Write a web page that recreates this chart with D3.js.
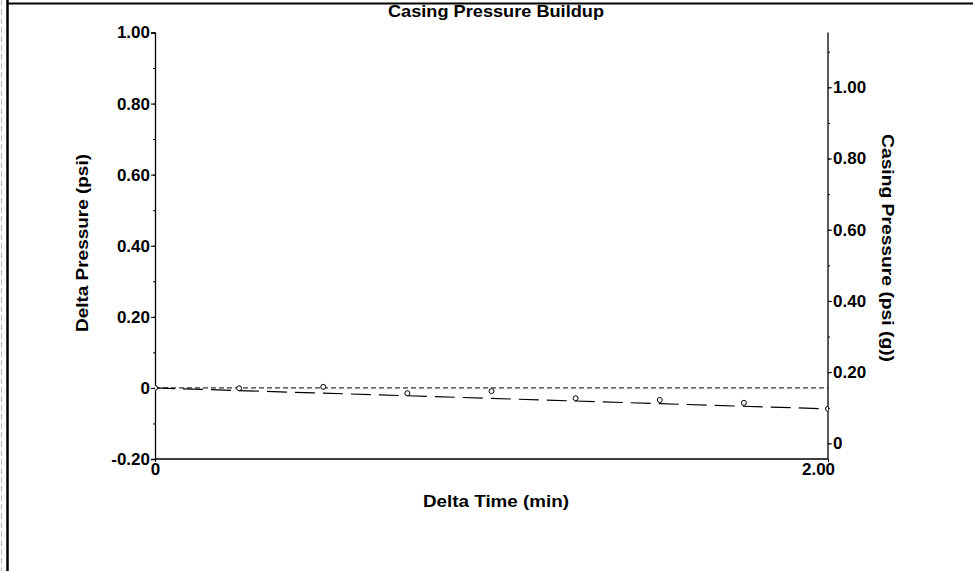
<!DOCTYPE html>
<html>
<head>
<meta charset="utf-8">
<script src="https://cdn.jsdelivr.net/npm/d3@7"></script>
<style>
  html, body { margin: 0; padding: 0; background: #fff; }
  svg { display: block; }
  text { font-family: "Liberation Sans", Arial, sans-serif; font-weight: bold; fill: #000; }
</style>
</head>
<body>
<svg id="chart" width="973" height="571"></svg>
<script>
// ---- data ----
const title = "Casing Pressure Buildup";
const xTitle = "Delta Time (min)";
const yLeftTitle = "Delta Pressure (psi)";
const yRightTitle = "Casing Pressure (psi (g))";

const xDomain = [0, 2.0];
const xTickValues = [0, 2.0];
const xTickLabels = ["0", "2.00"];

const yLeftDomain = [-0.2, 1.0];
const yLeftTickValues = [-0.2, 0, 0.2, 0.4, 0.6, 0.8, 1.0];
const yLeftTickLabels = ["-0.20", "0", "0.20", "0.40", "0.60", "0.80", "1.00"];

const yRightDomain = [-0.044, 1.154];
const yRightTickValues = [0, 0.2, 0.4, 0.6, 0.8, 1.0];
const yRightTickLabels = ["0", "0.20", "0.40", "0.60", "0.80", "1.00"];

// measured delta pressure points
const pointTimes  = [0, 0.25, 0.50, 0.75, 1.00, 1.25, 1.50, 1.75, 2.00];
const pointValues = [0, -0.001, 0.003, -0.015, -0.009, -0.029, -0.034, -0.042, -0.059];

// fitted (long dash) line
const trendTimes  = [0, 2.0];
const trendValues = [0, -0.059];

// reference (short dash) line at zero delta
const refTimes  = [0, 2.0];
const refValues = [0, 0];

// ---- layout ----
const svg = d3.select("#chart");
const mLeft = 155, mRight = 828, mTop = 32.5, mBottom = 459;
const FS = "17px";

const x = d3.scaleLinear().domain(xDomain).range([mLeft, mRight]);
const yL = d3.scaleLinear().domain(yLeftDomain).range([mBottom, mTop]);
const yR = d3.scaleLinear().domain(yRightDomain).range([mBottom, mTop]);

// page frame
svg.append("line").attr("x1", 7).attr("x2", 973).attr("y1", 3.5).attr("y2", 3.5)
  .attr("stroke", "#000").attr("stroke-width", 2);
svg.append("line").attr("x1", 7.5).attr("x2", 7.5).attr("y1", 0).attr("y2", 571)
  .attr("stroke", "#000").attr("stroke-width", 2.5);
svg.append("line").attr("x1", 1.5).attr("x2", 1.5).attr("y1", 0).attr("y2", 571)
  .attr("stroke", "#bbb").attr("stroke-width", 1).attr("stroke-dasharray", "6,3");

// title
svg.append("text").attr("x", 496).attr("y", 17).attr("text-anchor", "middle")
  .attr("textLength", 216).attr("lengthAdjust", "spacingAndGlyphs")
  .style("font-size", FS).text(title);

function styleText(g) {
  g.selectAll("text").style("font-size", FS)
    .style("font-family", "Liberation Sans, Arial, sans-serif").style("font-weight", "bold").attr("fill", "#000");
  g.selectAll(".tick line").attr("stroke", "#000");
}

// left axis
const axL = d3.axisLeft(yL).tickValues(yLeftTickValues).tickSize(4).tickPadding(1)
  .tickFormat((d, i) => yLeftTickLabels[i]);
const gL = svg.append("g").attr("transform", `translate(${mLeft},0)`).call(axL);
gL.select(".domain").attr("stroke", "#000").attr("stroke-width", 1.3);
styleText(gL);
const axLm = d3.axisLeft(yL).ticks(12).tickSize(2).tickFormat("");
const gLm = svg.append("g").attr("transform", `translate(${mLeft},0)`).call(axLm);
gLm.select(".domain").remove();
gLm.selectAll(".tick line").attr("stroke", "#000");

// right axis
const axR = d3.axisRight(yR).tickValues(yRightTickValues).tickSize(4).tickPadding(1)
  .tickFormat((d, i) => yRightTickLabels[i]);
const gR = svg.append("g").attr("transform", `translate(${mRight},0)`).call(axR);
gR.select(".domain").attr("stroke", "#000").attr("stroke-width", 1.3).attr("d", `M0,${mTop}V${mBottom}`);
styleText(gR);
const axRm = d3.axisRight(yR).tickValues(d3.range(0, 1.16, 0.1)).tickSize(2).tickFormat("");
const gRm = svg.append("g").attr("transform", `translate(${mRight},0)`).call(axRm);
gRm.select(".domain").remove();
gRm.selectAll(".tick line").attr("stroke", "#000");

// bottom axis
const axB = d3.axisBottom(x).tickValues(xTickValues).tickSize(3).tickPadding(1)
  .tickFormat((d, i) => xTickLabels[i]);
const gB = svg.append("g").attr("transform", `translate(0,${mBottom})`).call(axB);
gB.select(".domain").attr("stroke", "#000").attr("stroke-width", 1.3).attr("d", `M${mLeft},0H${mRight}`);
styleText(gB);
gB.selectAll(".tick text").filter((d, i) => i === 1).attr("dx", -10);

// axis titles
svg.append("text").attr("x", 496).attr("y", 507).attr("text-anchor", "middle")
  .attr("textLength", 146).attr("lengthAdjust", "spacingAndGlyphs")
  .style("font-size", FS).text(xTitle);
svg.append("text").attr("transform", "translate(88,243) rotate(-90)").attr("text-anchor", "middle")
  .attr("textLength", 178).attr("lengthAdjust", "spacingAndGlyphs")
  .style("font-size", FS).text(yLeftTitle);
svg.append("text").attr("transform", "translate(882,248) rotate(90)").attr("text-anchor", "middle")
  .attr("textLength", 228).attr("lengthAdjust", "spacingAndGlyphs")
  .style("font-size", FS).text(yRightTitle);

// clip
svg.append("clipPath").attr("id", "plotclip").append("rect")
  .attr("x", mLeft).attr("y", mTop).attr("width", mRight - mLeft).attr("height", mBottom - mTop);
const plot = svg.append("g").attr("clip-path", "url(#plotclip)");

const line = d3.line().x(d => x(d[0])).y(d => yL(d[1]));

plot.append("path").datum(d3.zip(refTimes, refValues)).attr("d", line)
  .attr("fill", "none").attr("stroke", "#000").attr("stroke-width", 1).attr("stroke-dasharray", "5,3");

plot.append("path").datum(d3.zip(trendTimes, trendValues)).attr("d", line)
  .attr("fill", "none").attr("stroke", "#000").attr("stroke-width", 1.2).attr("stroke-dasharray", "20,8");

plot.selectAll("circle").data(d3.zip(pointTimes, pointValues)).join("circle")
  .attr("cx", d => x(d[0])).attr("cy", d => yL(d[1])).attr("r", 2.5)
  .attr("fill", "#fff").attr("stroke", "#000").attr("stroke-width", 1);
</script>
</body>
</html>
